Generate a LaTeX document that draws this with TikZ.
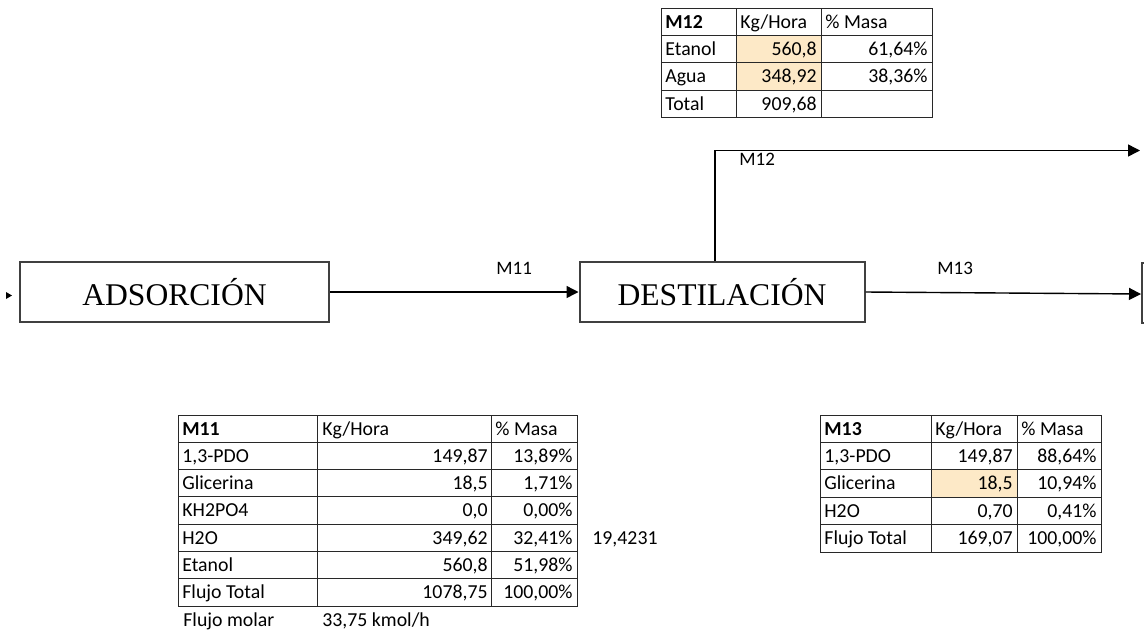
\documentclass[tikz,border=0pt]{standalone}
\usepackage{fontspec}
\setmainfont{Carlito}
\newfontfamily\boxfont{Liberation Serif}
\usetikzlibrary{arrows.meta}
\definecolor{hilite}{RGB}{253,233,199}
\definecolor{gridc}{RGB}{40,40,40}
\begin{document}
\begin{tikzpicture}[x=0.5pt,y=-0.5pt,
  proc/.style={draw=black!75, line width=1pt, minimum height=30pt, inner sep=0pt, font=\boxfont\fontsize{15.8}{18}\selectfont},
  flow/.style={line width=0.7pt, -{Triangle[length=6pt,width=6pt]}},
  lbl/.style={anchor=base west, inner sep=0pt, font=\fontsize{9.5}{11}\selectfont},
  lc/.style={anchor=base west, inner sep=0pt, font=\fontsize{9.9}{12}\selectfont},
  rc/.style={anchor=base east, inner sep=0pt, font=\fontsize{9.9}{12}\selectfont},
  tbl/.style={draw=gridc, line width=0.5pt}]
\useasboundingbox (0,0) rectangle (1144,632);
% process units
\node[proc, minimum width=154.5pt] (ads) at (174.5,292){ADSORCIÓN};
\node[proc, minimum width=142.5pt] (dest) at (722,292){DESTILACIÓN};
\draw[black!75, line width=1pt] (1147,263) -- (1141.5,263) -- (1141.5,323) -- (1147,323);
\fill (6,292) -- (12,295.5) -- (6,299) -- cycle;
% streams
\coordinate (m12end) at (1140,150.5);
\coordinate (m13end) at (1141,294);
\draw[flow](ads) -- (dest);
\draw[flow](dest.east) -- (m13end);
\draw[flow]([xshift=-3.5pt]dest.north) |- (m12end);
\node[lbl] (l11) at (496,274){M11};
\node[lbl] (l12) at (739,165){M12};
\node[lbl] (l13) at (937,274){M13};
% table M12
\fill[hilite] (736,35.7) rectangle (821,90.1);
\draw[tbl] (661,8.5) rectangle (932,117.3);
\draw[tbl] (736,8.5) -- (736,117.3) (821,8.5) -- (821,117.3);
\draw[tbl] (661,35.7) -- (932,35.7) (661,62.9) -- (932,62.9) (661,90.1) -- (932,90.1);
\node[lc] (t12h0) at (665,28.5){\textbf{M12}};
\node[lc] (t12h1) at (740,28.5){Kg/Hora};
\node[lc] (t12h2) at (825,28.5){\% Masa};
\node[lc] (t12a0) at (665,55.7){Etanol};
\node[rc] (t12a1) at (817,55.7){560,8};
\node[rc] (t12a2) at (928,55.7){61,64\%};
\node[lc] (t12b0) at (665,82.9){Agua};
\node[rc] (t12b1) at (817,82.9){348,92};
\node[rc] (t12b2) at (928,82.9){38,36\%};
\node[lc] (t12c0) at (665,110.1){Total};
\node[rc] (t12c1) at (817,110.1){909,68};
% table M11
\draw[tbl] (178.5,415) rectangle (577,606.1);
\draw[tbl] (317.5,415) -- (317.5,606.1) (491.5,415) -- (491.5,606.1);
\draw[tbl] (178.5,442.3) -- (577,442.3) (178.5,469.6) -- (577,469.6) (178.5,496.9) -- (577,496.9)
  (178.5,524.2) -- (577,524.2) (178.5,551.5) -- (577,551.5) (178.5,578.8) -- (577,578.8);
\node[lc] (t11h0) at (182,435){\textbf{M11}};
\node[lc] (t11h1) at (322,435){Kg/Hora};
\node[lc] (t11h2) at (495,435){\% Masa};
\node[lc] (t11a0) at (182,462.3){1,3-PDO};
\node[rc] (t11a1) at (488,462.3){149,87};
\node[rc] (t11a2) at (573,462.3){13,89\%};
\node[lc] (t11b0) at (182,489.6){Glicerina};
\node[rc] (t11b1) at (488,489.6){18,5};
\node[rc] (t11b2) at (573,489.6){1,71\%};
\node[lc] (t11c0) at (182,516.9){KH2PO4};
\node[rc] (t11c1) at (488,516.9){0,0};
\node[rc] (t11c2) at (573,516.9){0,00\%};
\node[lc] (t11d0) at (182,544.2){H2O};
\node[rc] (t11d1) at (488,544.2){349,62};
\node[rc] (t11d2) at (573,544.2){32,41\%};
\node[lc] (t11d3) at (592,544.2){19,4231};
\node[lc] (t11e0) at (182,571.5){Etanol};
\node[rc] (t11e1) at (488,571.5){560,8};
\node[rc] (t11e2) at (573,571.5){51,98\%};
\node[lc] (t11f0) at (182,598.8){Flujo Total};
\node[rc] (t11f1) at (488,598.8){1078,75};
\node[rc] (t11f2) at (573,598.8){100,00\%};
\node[lc] (t11g0) at (183,626){Flujo molar};
\node[lc] (t11g1) at (322,626){33,75 kmol/h};
% table M13
\fill[hilite] (931,469.8) rectangle (1017,497.2);
\draw[tbl] (820,415) rectangle (1101,552);
\draw[tbl] (931,415) -- (931,552) (1017,415) -- (1017,552);
\draw[tbl] (820,442.4) -- (1101,442.4) (820,469.8) -- (1101,469.8) (820,497.2) -- (1101,497.2) (820,524.6) -- (1101,524.6);
\node[lc] (t13h0) at (824,435){\textbf{M13}};
\node[lc] (t13h1) at (935,435){Kg/Hora};
\node[lc] (t13h2) at (1021,435){\% Masa};
\node[lc] (t13a0) at (824,462.4){1,3-PDO};
\node[rc] (t13a1) at (1013,462.4){149,87};
\node[rc] (t13a2) at (1097,462.4){88,64\%};
\node[lc] (t13b0) at (824,489.8){Glicerina};
\node[rc] (t13b1) at (1013,489.8){18,5};
\node[rc] (t13b2) at (1097,489.8){10,94\%};
\node[lc] (t13c0) at (824,517.2){H2O};
\node[rc] (t13c1) at (1013,517.2){0,70};
\node[rc] (t13c2) at (1097,517.2){0,41\%};
\node[lc] (t13d0) at (824,544.6){Flujo Total};
\node[rc] (t13d1) at (1013,544.6){169,07};
\node[rc] (t13d2) at (1097,544.6){100,00\%};
\end{tikzpicture}
\end{document}
